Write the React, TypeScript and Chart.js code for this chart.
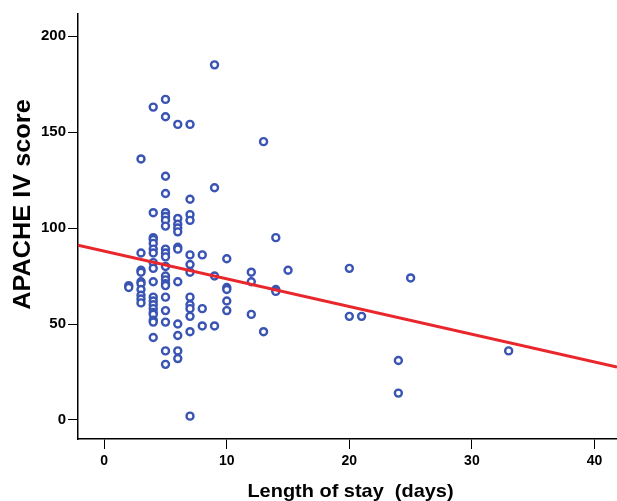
import React, { useEffect, useRef } from "react";
import { Chart, registerables } from "chart.js";

Chart.register(...registerables);

// Length of stay (days) for each patient
const LOS_DAYS: number[] = [
  2, 2,
  3, 3, 3, 3, 3, 3, 3, 3, 3, 3,
  4, 4, 4, 4, 4, 4, 4, 4, 4, 4, 4, 4, 4, 4, 4, 4, 4, 4, 4,
  5, 5, 5, 5, 5, 5, 5, 5, 5, 5, 5, 5, 5, 5, 5, 5, 5, 5, 5, 5, 5,
  6, 6, 6, 6, 6, 6, 6, 6, 6, 6, 6, 6,
  7, 7, 7, 7, 7, 7, 7, 7, 7, 7, 7, 7, 7,
  8, 8, 8,
  9, 9, 9, 9,
  10, 10, 10, 10, 10,
  12, 12, 12,
  13, 13,
  14, 14, 14,
  15,
  20, 20,
  21,
  24, 24,
  25,
  33,
];

// APACHE IV score for each patient (same order as LOS_DAYS)
const APACHE_SCORES: number[] = [
  70, 69,
  136, 87, 78, 77, 72, 71, 68, 65, 63, 61,
  163, 108, 95, 94, 92, 89, 87, 82, 79, 72, 64, 62, 60, 58, 56, 55, 52, 51, 43,
  167, 158, 127, 118, 108, 106, 104, 101, 89, 87, 85, 80, 75, 73, 71, 70, 64, 57, 51, 36, 29,
  154, 105, 102, 100, 98, 90, 89, 72, 50, 44, 36, 32,
  154, 115, 107, 104, 86, 81, 77, 64, 60, 58, 54, 46, 2,
  86, 58, 49,
  185, 121, 75, 49,
  84, 69, 68, 62, 57,
  77, 72, 55,
  145, 46,
  95, 68, 67,
  78,
  79, 54,
  54,
  31, 14,
  74,
  36,
];

const X_TICKS: number[] = [0, 10, 20, 30, 40];
const Y_TICKS: number[] = [0, 50, 100, 150, 200];

const X_MIN = -2.14;
const X_MAX = 41.84;
const Y_MIN = -9.9;
const Y_MAX = 211.5;

// Linear fit line: score = INTERCEPT + SLOPE * days
const FIT_INTERCEPT = 88.0;
const FIT_SLOPE = -1.444;

const X_TITLE = "Length of stay  (days)";
const Y_TITLE = "APACHE IV score";

const FONT_FAMILY = "'Liberation Sans', Arial, Helvetica, sans-serif";

const axisTitlePlugin = {
  id: "axisTitles",
  afterDraw(chart: any) {
    const { ctx, chartArea } = chart;
    ctx.save();
    ctx.fillStyle = "#000";
    ctx.textAlign = "center";
    ctx.textBaseline = "middle";
    // x title
    ctx.font = `bold 19px ${FONT_FAMILY}`;
    ctx.save();
    ctx.translate((chartArea.left + chartArea.right) / 2 + 3, chartArea.bottom + 53);
    ctx.scale(1.05, 1);
    ctx.fillText(X_TITLE, 0, 0);
    ctx.restore();
    // y title
    ctx.font = `bold 23px ${FONT_FAMILY}`;
    ctx.translate(24, (chartArea.top + chartArea.bottom) / 2 - 22);
    ctx.rotate(-Math.PI / 2);
    ctx.scale(1.1, 1);
    ctx.fillText(Y_TITLE, 0, 0);
    ctx.restore();
  },
};

export default function App() {
  const canvasRef = useRef<HTMLCanvasElement | null>(null);

  useEffect(() => {
    if (!canvasRef.current) return;
    const points = LOS_DAYS.map((d, i) => ({ x: d, y: APACHE_SCORES[i] }));
    const fit = [X_MIN, X_MAX].map((x) => ({ x, y: FIT_INTERCEPT + FIT_SLOPE * x }));

    const chart = new Chart(canvasRef.current, {
      type: "scatter",
      data: {
        datasets: [
          {
            type: "line",
            label: "Fit",
            data: fit,
            borderColor: "#e8262b",
            borderWidth: 3,
            pointRadius: 0,
            showLine: true,
            order: 0,
          } as any,
          {
            label: "Patients",
            data: points,
            pointStyle: "circle",
            pointRadius: 3.5,
            borderWidth: 2.4,
            borderColor: "#3a54b4",
            backgroundColor: "#ffffff",
            order: 1,
          },
        ],
      },
      options: {
        responsive: false,
        animation: false,
        events: [],
        layout: { autoPadding: false, padding: { top: 14, right: 0, bottom: 0, left: 0 } },
        plugins: {
          legend: { display: false },
          tooltip: { enabled: false },
        },
        scales: {
          x: {
            type: "linear",
            min: X_MIN,
            max: X_MAX,
            afterBuildTicks: (scale: any) => {
              scale.ticks = X_TICKS.map((v) => ({ value: v }));
            },
            afterFit: (scale: any) => {
              scale.height = 62;
              scale.paddingRight = 0;
              scale.paddingLeft = 0;
            },
            ticks: {
              color: "#000",
              font: { family: FONT_FAMILY, size: 14, weight: "bold" },
              padding: 4,
              maxRotation: 0,
            },
            grid: {
              drawOnChartArea: false,
              drawTicks: true,
              tickLength: 10,
              color: "#000",
              lineWidth: 1,
            },
            border: { display: true, color: "#000", width: 1.5 },
          },
          y: {
            type: "linear",
            min: Y_MIN,
            max: Y_MAX,
            afterBuildTicks: (scale: any) => {
              scale.ticks = Y_TICKS.map((v) => ({ value: v }));
            },
            afterFit: (scale: any) => {
              scale.width = 78;
              scale.paddingTop = 0;
              scale.paddingBottom = 0;
            },
            ticks: {
              color: "#000",
              font: { family: FONT_FAMILY, size: 15, weight: "bold" },
              padding: 2,
            },
            grid: {
              drawOnChartArea: false,
              drawTicks: true,
              tickLength: 10,
              color: "#000",
              lineWidth: 1,
            },
            border: { display: true, color: "#000", width: 1.5 },
          },
        },
      },
      plugins: [axisTitlePlugin],
    });

    return () => chart.destroy();
  }, []);

  return (
    <div style={{ position: "fixed", left: 0, top: 0, width: 617, height: 501, background: "#fff" }}>
      <canvas ref={canvasRef} width={617} height={501} />
    </div>
  );
}
